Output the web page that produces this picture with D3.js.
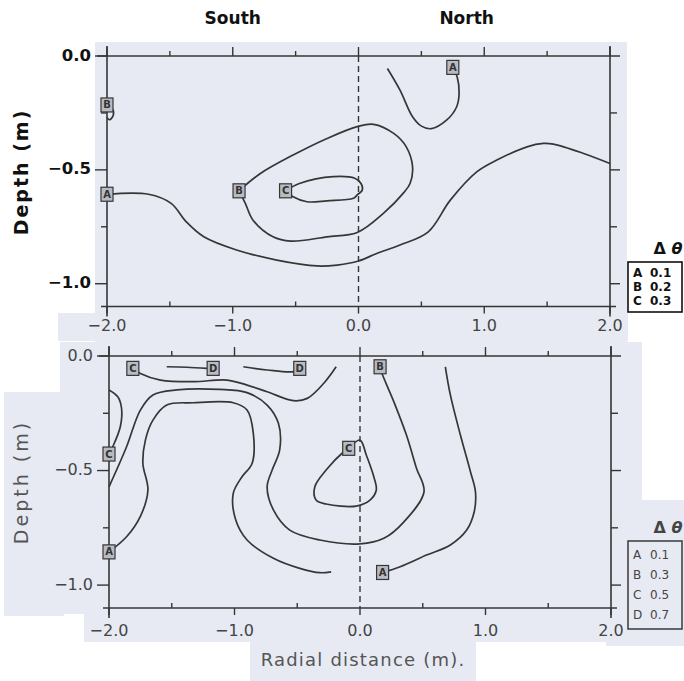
<!DOCTYPE html>
<html>
<head>
<meta charset="utf-8">
<script src="https://cdn.jsdelivr.net/npm/d3@7"></script>
<style>
  body { margin: 0; background: #fff; }
  svg text { font-family: "DejaVu Sans", sans-serif; }
</style>
</head>
<body>
<div id="chart"></div>
<script>
// tick values
const xTicks = [-2.0, -1.0, 0.0, 1.0, 2.0];
const xMinor = [-1.5, -0.5, 0.5, 1.5];
const yTicks = [0.0, -0.5, -1.0];
const yMinor = [-0.25, -0.75];

// legends
const legendTop = [["A", "0.1"], ["B", "0.2"], ["C", "0.3"]];
const legendBottom = [["A", "0.1"], ["B", "0.3"], ["C", "0.5"], ["D", "0.7"]];

// top panel contours, [radial distance, depth]
const topA = [[-2.0,-0.607],[-1.67,-0.607],[-1.49,-0.647],[-1.37,-0.728],[-1.23,-0.794],[-0.97,-0.852],
  [-0.65,-0.896],[-0.33,-0.922],[-0.17,-0.918],[0.0,-0.9],[0.145,-0.867],[0.33,-0.83],[0.555,-0.772],
  [0.73,-0.633],[0.94,-0.509],[1.10,-0.457],[1.34,-0.399],[1.47,-0.384],[1.55,-0.387],[1.79,-0.428],[2.0,-0.472]];
const topB = [[-0.95,-0.592],[-0.78,-0.516],[-0.52,-0.435],[-0.25,-0.362],[-0.01,-0.31],[0.12,-0.30],
  [0.28,-0.34],[0.38,-0.399],[0.43,-0.487],[0.41,-0.56],[0.36,-0.60],[0.20,-0.69],[-0.01,-0.775],
  [-0.25,-0.794],[-0.54,-0.813],[-0.68,-0.794],[-0.84,-0.72],[-0.90,-0.647],[-0.95,-0.592]];
const topC = [[-0.58,-0.592],[-0.47,-0.56],[-0.20,-0.53],[-0.03,-0.537],[0.02,-0.56],[0.03,-0.589],
  [-0.01,-0.61],[-0.04,-0.625],[-0.25,-0.636],[-0.41,-0.64],[-0.52,-0.618],[-0.58,-0.592]];
const topA2 = [[0.75,-0.05],[0.785,-0.092],[0.80,-0.165],[0.78,-0.224],[0.70,-0.282],[0.58,-0.319],
  [0.50,-0.308],[0.43,-0.267],[0.33,-0.15],[0.23,-0.055]];
const topB2 = [[-2.0,-0.22],[-1.96,-0.23],[-1.95,-0.26],[-1.98,-0.28],[-2.0,-0.27]];
const topLabels = [["A",-2.0,-0.607],["B",-0.95,-0.592],["C",-0.58,-0.592],["A",0.75,-0.05],["B",-2.0,-0.215]];

// bottom panel contours
const botC1 = [[-1.81,-0.054],[-1.75,-0.076],[-1.59,-0.105],[-1.33,-0.112],[-1.06,-0.105],[-0.90,-0.127],
  [-0.74,-0.156],[-0.53,-0.195],[-0.42,-0.185],[-0.29,-0.12],[-0.19,-0.047]];
const botD1 = [[-1.54,-0.047],[-1.38,-0.049],[-1.22,-0.054]];
const botD2 = [[-0.93,-0.047],[-0.74,-0.061],[-0.53,-0.068],[-0.48,-0.054]];
const botC2 = [[-2.0,-0.148],[-1.93,-0.178],[-1.90,-0.228],[-1.91,-0.309],[-1.97,-0.396],[-2.0,-0.428]];
const botB = [[-2.0,-0.571],[-1.86,-0.396],[-1.75,-0.236],[-1.65,-0.170],[-1.46,-0.148],[-1.12,-0.146],
  [-0.90,-0.160],[-0.74,-0.214],[-0.65,-0.294],[-0.64,-0.41],[-0.70,-0.498],[-0.74,-0.571],[-0.69,-0.672],
  [-0.56,-0.76],[-0.32,-0.803],[0.0,-0.82],[0.19,-0.796],[0.35,-0.724],[0.51,-0.593],[0.45,-0.49],
  [0.37,-0.345],[0.27,-0.20],[0.17,-0.069],[0.16,-0.047]];
const botA1 = [[-2.0,-0.855],[-1.86,-0.789],[-1.75,-0.70],[-1.69,-0.585],[-1.73,-0.469],[-1.71,-0.367],
  [-1.65,-0.28],[-1.54,-0.214],[-1.33,-0.204],[-1.01,-0.204],[-0.90,-0.236],[-0.85,-0.338],[-0.86,-0.469],
  [-0.94,-0.527],[-1.01,-0.60],[-0.99,-0.716],[-0.90,-0.803],[-0.69,-0.883],[-0.48,-0.927],[-0.32,-0.946],[-0.23,-0.942]];
const botA2 = [[0.18,-0.945],[0.32,-0.92],[0.53,-0.869],[0.72,-0.825],[0.85,-0.76],[0.91,-0.68],[0.92,-0.593],
  [0.88,-0.505],[0.80,-0.345],[0.72,-0.17],[0.68,-0.047]];
const botC3 = [[-0.09,-0.403],[-0.13,-0.418],[-0.27,-0.498],[-0.36,-0.571],[-0.35,-0.629],[-0.27,-0.646],
  [-0.03,-0.655],[0.08,-0.629],[0.13,-0.585],[0.11,-0.527],[0.05,-0.432],[0.0,-0.367],[-0.09,-0.403]];
const botLabels = [["C",-1.81,-0.054],["D",-1.17,-0.054],["D",-0.48,-0.054],["B",0.16,-0.047],
  ["C",-2.0,-0.428],["C",-0.09,-0.403],["A",-2.0,-0.855],["A",0.18,-0.945]];

const width = 684, height = 681;
const bg = "#e7eaf3";
const ink = "#363636";

const svg = d3.select("#chart").append("svg")
  .attr("width", width).attr("height", height);

// scanned-paper patches
const patches = [[95,42,532,300],[58,313,570,28],[60,342,582,272],[4,392,60,224],[84,612,552,30],[250,640,226,41],[606,500,78,146]];
svg.selectAll("rect.patch").data(patches).enter().append("rect")
  .attr("x", d => d[0]).attr("y", d => d[1]).attr("width", d => d[2]).attr("height", d => d[3])
  .attr("fill", bg);

const fmt = d => d3.format(".1f")(d).replace("-", "\u2212");

function panel(opt) {
  const x = d3.scaleLinear().domain([-2, 2]).range(opt.xr);
  const y = d3.scaleLinear().domain([0, -1.1]).range(opt.yr);
  const g = svg.append("g");
  const x0 = x(-2), x1 = x(2), y0 = y(0), y1 = y(-1.1);
  const dark = opt.bold ? "#111" : "#444";

  // frame, lines run a bit past the corners
  const frame = [[x0 - 10, y0, x1 + 10, y0], [x0 - 6, y1, x1 + 6, y1], [x0, y0 - 10, x0, y1 + 10], [x1, y0 - 10, x1, y1 + 10]];
  g.selectAll("line.frame").data(frame).enter().append("line")
    .attr("x1", d => d[0]).attr("y1", d => d[1]).attr("x2", d => d[2]).attr("y2", d => d[3])
    .attr("stroke", ink).attr("stroke-width", 1.6);

  // ticks
  const tick = (vals, fn) => g.selectAll(null).data(vals).enter().append("line")
    .each(function (d) { const c = fn(d); d3.select(this).attr("x1", c[0]).attr("y1", c[1]).attr("x2", c[2]).attr("y2", c[3]); })
    .attr("stroke", ink).attr("stroke-width", 1.4);
  tick(xTicks, d => [x(d), y0, x(d), y0 - 9]);
  tick(xMinor, d => [x(d), y0, x(d), y0 - 5]);
  tick(xTicks, d => [x(d), y1, x(d), y1 + 7]);
  tick(xMinor, d => [x(d), y1, x(d), y1 - 5]);
  tick(yTicks, d => [x0, y(d), x0 - 12, y(d)]);
  tick(yMinor, d => [x0, y(d), x0 - 6, y(d)]);
  tick(yTicks.slice(1), d => [x1, y(d), x1 + 10, y(d)]);
  tick(yMinor, d => [x1, y(d), x1 + 7, y(d)]);

  // dashed zero line
  g.append("line")
    .attr("x1", x(0)).attr("x2", x(0)).attr("y1", y0).attr("y2", y1)
    .attr("stroke", ink).attr("stroke-width", 1.4).attr("stroke-dasharray", "6,4");

  // tick labels
  g.selectAll("text.xt").data(xTicks).enter().append("text")
    .attr("x", x).attr("y", opt.xLabelY)
    .attr("text-anchor", "middle").attr("dominant-baseline", "middle")
    .attr("font-size", 16).attr("fill", "#444")
    .text(fmt);
  g.selectAll("text.yt").data(yTicks).enter().append("text")
    .attr("x", x0 - 16).attr("y", y)
    .attr("text-anchor", "end").attr("dominant-baseline", "middle")
    .attr("font-size", opt.bold ? 16.5 : 16).attr("font-weight", opt.bold ? "bold" : "normal")
    .attr("fill", dark)
    .text(fmt);

  // y title
  g.append("text")
    .attr("transform", `translate(22,${opt.titleY}) rotate(-90)`)
    .attr("text-anchor", "middle").attr("dominant-baseline", "middle")
    .attr("font-size", 19).attr("font-weight", opt.bold ? "bold" : "normal")
    .attr("letter-spacing", opt.bold ? 2 : 3)
    .attr("fill", opt.bold ? "#111" : "#555")
    .text("Depth (m)");

  // contours
  const line = d3.line().x(d => x(d[0])).y(d => y(d[1])).curve(d3.curveCatmullRom.alpha(0.5));
  g.selectAll("path.contour").data(opt.contours).enter().append("path")
    .attr("d", line).attr("fill", "none").attr("stroke", ink).attr("stroke-width", 1.7);

  // contour labels
  const lab = g.selectAll("g.lab").data(opt.labels).enter().append("g")
    .attr("transform", d => `translate(${x(d[1])},${y(d[2])})`);
  lab.append("rect").attr("x", -6).attr("y", -7).attr("width", 12).attr("height", 14)
    .attr("fill", "#b9bbc2").attr("stroke", ink).attr("stroke-width", 1.2);
  lab.append("text").attr("text-anchor", "middle").attr("dominant-baseline", "central")
    .attr("font-size", 10).attr("font-weight", "bold").attr("fill", "#333")
    .text(d => d[0]);

  // legend
  const lg = g.append("g");
  const head = lg.append("text").attr("x", 668).attr("y", opt.legY)
    .attr("text-anchor", "middle").attr("dominant-baseline", "middle")
    .attr("font-size", 16).attr("font-weight", "bold").attr("fill", dark);
  head.append("tspan").text("\u0394 ");
  head.append("tspan").attr("font-style", "italic").text("\u03b8");
  const rowH = opt.legRow, bx = 628, by = opt.legY + 13;
  lg.append("rect").attr("x", bx).attr("y", by).attr("width", 54).attr("height", rowH * opt.legend.length + 8)
    .attr("fill", opt.bold ? "#fff" : bg).attr("stroke", dark).attr("stroke-width", 1.6);
  const rows = lg.selectAll("g.row").data(opt.legend).enter().append("g")
    .attr("transform", (d, i) => `translate(${bx},${by + 4 + rowH * (i + 0.5)})`);
  rows.append("text").attr("x", 5).attr("dominant-baseline", "middle")
    .attr("font-size", 12).attr("font-weight", opt.bold ? "bold" : "normal").attr("fill", dark)
    .text(d => d[0]);
  rows.append("text").attr("x", 22).attr("dominant-baseline", "middle")
    .attr("font-size", 12).attr("font-weight", opt.bold ? "bold" : "normal").attr("fill", dark)
    .text(d => d[1]);
  return x;
}

const xTop = panel({
  xr: [107, 610], yr: [56, 306.5], xLabelY: 326, titleY: 172, bold: true,
  contours: [topA, topB, topC, topA2, topB2], labels: topLabels,
  legend: legendTop, legY: 249, legRow: 14
});

panel({
  xr: [109, 611], yr: [356, 608], xLabelY: 631, titleY: 482, bold: false,
  contours: [botC1, botD1, botD2, botC2, botB, botA1, botA2, botC3], labels: botLabels,
  legend: legendBottom, legY: 528, legRow: 20
});

svg.append("text").attr("x", xTop(-1.0)).attr("y", 19)
  .attr("text-anchor", "middle").attr("dominant-baseline", "middle")
  .attr("font-size", 17).attr("font-weight", "bold").attr("fill", "#111").text("South");
svg.append("text").attr("x", xTop(0.86)).attr("y", 19)
  .attr("text-anchor", "middle").attr("dominant-baseline", "middle")
  .attr("font-size", 17).attr("font-weight", "bold").attr("fill", "#111").text("North");
svg.append("text").attr("x", 363).attr("y", 661)
  .attr("text-anchor", "middle").attr("dominant-baseline", "middle")
  .attr("font-size", 18).attr("letter-spacing", 1.2).attr("fill", "#555").text("Radial distance (m).");
</script>
</body>
</html>
